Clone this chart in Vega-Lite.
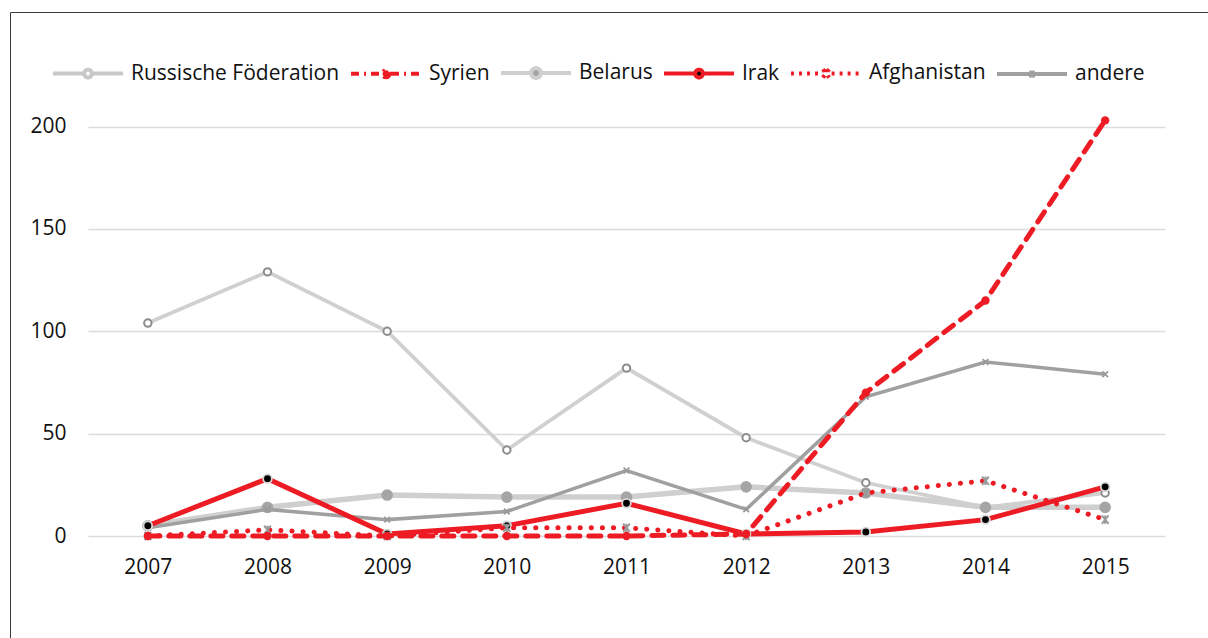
{
  "$schema": "https://vega.github.io/schema/vega-lite/v6.json",
  "autosize": {"type": "none"},
  "padding": {"left": 10, "top": 12, "right": 0, "bottom": 0},
  "width": 1198,
  "height": 626,
  "background": "white",
  "config": {
    "view": {"stroke": "#3a3a3a", "strokeWidth": 1},
    "font": "Open Sans",
    "axis": {"labelFont": "Open Sans", "labelFontSize": 21, "labelColor": "#111111", "ticks": false, "tickSize": 0, "domain": false, "title": null},
    "legend": {"labelFont": "Open Sans", "labelFontSize": 21, "labelColor": "#111111"}
  },
  "data": {"values": [
    {"Jahr": "2007", "Land": "Russische Föderation", "Wert": 104},
    {"Jahr": "2008", "Land": "Russische Föderation", "Wert": 129},
    {"Jahr": "2009", "Land": "Russische Föderation", "Wert": 100},
    {"Jahr": "2010", "Land": "Russische Föderation", "Wert": 42},
    {"Jahr": "2011", "Land": "Russische Föderation", "Wert": 82},
    {"Jahr": "2012", "Land": "Russische Föderation", "Wert": 48},
    {"Jahr": "2013", "Land": "Russische Föderation", "Wert": 26},
    {"Jahr": "2014", "Land": "Russische Föderation", "Wert": 14},
    {"Jahr": "2015", "Land": "Russische Föderation", "Wert": 21},
    {"Jahr": "2007", "Land": "Syrien", "Wert": 0},
    {"Jahr": "2008", "Land": "Syrien", "Wert": 0},
    {"Jahr": "2009", "Land": "Syrien", "Wert": 0},
    {"Jahr": "2010", "Land": "Syrien", "Wert": 0},
    {"Jahr": "2011", "Land": "Syrien", "Wert": 0},
    {"Jahr": "2012", "Land": "Syrien", "Wert": 1},
    {"Jahr": "2013", "Land": "Syrien", "Wert": 70},
    {"Jahr": "2014", "Land": "Syrien", "Wert": 115},
    {"Jahr": "2015", "Land": "Syrien", "Wert": 203},
    {"Jahr": "2007", "Land": "Belarus", "Wert": 5},
    {"Jahr": "2008", "Land": "Belarus", "Wert": 14},
    {"Jahr": "2009", "Land": "Belarus", "Wert": 20},
    {"Jahr": "2010", "Land": "Belarus", "Wert": 19},
    {"Jahr": "2011", "Land": "Belarus", "Wert": 19},
    {"Jahr": "2012", "Land": "Belarus", "Wert": 24},
    {"Jahr": "2013", "Land": "Belarus", "Wert": 21},
    {"Jahr": "2014", "Land": "Belarus", "Wert": 14},
    {"Jahr": "2015", "Land": "Belarus", "Wert": 14},
    {"Jahr": "2007", "Land": "Irak", "Wert": 5},
    {"Jahr": "2008", "Land": "Irak", "Wert": 28},
    {"Jahr": "2009", "Land": "Irak", "Wert": 1},
    {"Jahr": "2010", "Land": "Irak", "Wert": 5},
    {"Jahr": "2011", "Land": "Irak", "Wert": 16},
    {"Jahr": "2012", "Land": "Irak", "Wert": 1},
    {"Jahr": "2013", "Land": "Irak", "Wert": 2},
    {"Jahr": "2014", "Land": "Irak", "Wert": 8},
    {"Jahr": "2015", "Land": "Irak", "Wert": 24},
    {"Jahr": "2007", "Land": "Afghanistan", "Wert": 0},
    {"Jahr": "2008", "Land": "Afghanistan", "Wert": 3},
    {"Jahr": "2009", "Land": "Afghanistan", "Wert": 0},
    {"Jahr": "2010", "Land": "Afghanistan", "Wert": 4},
    {"Jahr": "2011", "Land": "Afghanistan", "Wert": 4},
    {"Jahr": "2012", "Land": "Afghanistan", "Wert": 0},
    {"Jahr": "2013", "Land": "Afghanistan", "Wert": 21},
    {"Jahr": "2014", "Land": "Afghanistan", "Wert": 27},
    {"Jahr": "2015", "Land": "Afghanistan", "Wert": 8},
    {"Jahr": "2007", "Land": "andere", "Wert": 4},
    {"Jahr": "2008", "Land": "andere", "Wert": 13},
    {"Jahr": "2009", "Land": "andere", "Wert": 8},
    {"Jahr": "2010", "Land": "andere", "Wert": 12},
    {"Jahr": "2011", "Land": "andere", "Wert": 32},
    {"Jahr": "2012", "Land": "andere", "Wert": 13},
    {"Jahr": "2013", "Land": "andere", "Wert": 68},
    {"Jahr": "2014", "Land": "andere", "Wert": 85},
    {"Jahr": "2015", "Land": "andere", "Wert": 79}
  ]},
  "encoding": {
    "x": {"field": "Jahr", "type": "ordinal", "scale": {"type": "point", "padding": 0.5, "range": [78, 1155]},
          "axis": {"orient": "bottom", "offset": -102, "labelPadding": 20, "labelAngle": 0, "grid": false}},
    "y": {"field": "Wert", "type": "quantitative", "scale": {"domain": [0, 200], "range": [524, 114.5], "nice": false, "zero": true},
          "axis": {"orient": "left", "offset": -56, "labelPadding": 0, "values": [0, 50, 100, 150, 200], "grid": true, "gridColor": "#dcdcdc", "gridWidth": 1.6}}
  },
  "layer": [
    {
      "transform": [{"filter": "datum.Land == 'Russische Föderation'"}],
      "mark": {"type": "line", "stroke": "#d0d0d0", "strokeWidth": 3.8,
               "point": {"shape": "circle", "filled": true, "fill": "white", "stroke": "#8c8c8c", "strokeWidth": 2, "size": 55, "opacity": 1}}
    },
    {
      "transform": [{"filter": "datum.Land == 'Belarus'"}],
      "mark": {"type": "line", "stroke": "#cfcfcf", "strokeWidth": 5.5,
               "point": {"shape": "circle", "filled": true, "fill": "#a5a5a5", "strokeWidth": 0, "size": 135, "opacity": 1}}
    },
    {
      "transform": [{"filter": "datum.Land == 'andere'"}],
      "mark": {"type": "line", "stroke": "#a0a0a0", "strokeWidth": 3.5,
               "point": {"shape": "M-1,-1L1,1M-1,1L1,-1", "filled": false, "stroke": "#9a9a9a", "strokeWidth": 1.8, "size": 32, "opacity": 1}}
    },
    {
      "transform": [{"filter": "datum.Land == 'Irak'"}],
      "mark": {"type": "line", "stroke": "#ed1c24", "strokeWidth": 5,
               "point": {"shape": "circle", "filled": true, "fill": "black", "stroke": "#d8d8d8", "strokeWidth": 1.8, "size": 75, "opacity": 1}}
    },
    {
      "transform": [{"filter": "datum.Land == 'Afghanistan'"}],
      "mark": {"type": "line", "stroke": "#ed1c24", "strokeWidth": 5, "strokeDash": [0.1, 11], "strokeCap": "round",
               "point": {"shape": "M-0.8,-1L0.8,1M-0.8,1L0.8,-1M0,-1V1", "filled": false, "stroke": "#9a9a9a", "strokeWidth": 2, "size": 70, "opacity": 1}}
    },
    {
      "transform": [{"filter": "datum.Land == 'Syrien'"}],
      "mark": {"type": "line", "stroke": "#ed1c24", "strokeWidth": 5, "strokeDash": [12, 9], "strokeCap": "round",
               "point": {"shape": "circle", "filled": true, "fill": "#ed1c24", "strokeWidth": 0, "size": 70, "opacity": 1}}
    },
    {
      "transform": [{"filter": "datum.Wert < 0"}],
      "mark": {"type": "point", "opacity": 1, "filled": true},
      "encoding": {
        "shape": {"field": "Land", "type": "nominal",
          "scale": {"domain": ["Russische Föderation", "Syrien", "Belarus", "Irak", "Afghanistan", "andere"],
                    "range": [
                      "M-1,0H-0.14M0.14,0H1M0.11,0A0.11,0.11 0 1,1 -0.11,0A0.11,0.11 0 1,1 0.11,0Z",
                      "M-1,0H1M0.1,0A0.1,0.1 0 1,1 -0.1,0A0.1,0.1 0 1,1 0.1,0Z",
                      "M-1,0H-0.16M0.16,0H1M0.14,0A0.14,0.14 0 1,1 -0.14,0A0.14,0.14 0 1,1 0.14,0Z",
                      "M-1,0H-0.14M0.14,0H1M0.11,0A0.11,0.11 0 1,1 -0.11,0A0.11,0.11 0 1,1 0.11,0Z",
                      "M-1,0H-0.16M0.16,0H1M-0.09,-0.12L0.09,0.12M-0.09,0.12L0.09,-0.12M0,-0.12V0.12",
                      "M-1,0H1M-0.08,-0.08L0.08,0.08M-0.08,0.08L0.08,-0.08"
                    ]},
          "legend": {"title": null, "orient": "none", "legendX": 41, "legendY": 24, "direction": "horizontal", "columns": 6,
                     "symbolSize": 4900, "symbolStrokeWidth": 4, "labelOffset": 6, "columnPadding": 3, "labelLimit": 400, "padding": 0,
                     "labelFontSize": 21, "labelFont": "Open Sans",
                     "encode": {"symbols": {"update": {"strokeCap": {"value": "round"}}}}}},
        "fill": {"field": "Land", "type": "nominal",
          "scale": {"domain": ["Russische Föderation", "Syrien", "Belarus", "Irak", "Afghanistan", "andere"],
                    "range": ["white", "#ed1c24", "#a5a5a5", "black", "transparent", "transparent"]}},
        "stroke": {"field": "Land", "type": "nominal",
          "scale": {"domain": ["Russische Föderation", "Syrien", "Belarus", "Irak", "Afghanistan", "andere"],
                    "range": ["#c8c8c8", "#ed1c24", "#cfcfcf", "#ed1c24", "#ed1c24", "#a0a0a0"]}},
        "strokeDash": {"field": "Land", "type": "nominal",
          "scale": {"domain": ["Russische Föderation", "Syrien", "Belarus", "Irak", "Afghanistan", "andere"],
                    "range": [[1, 0], [8, 5, 2, 5], [1, 0], [1, 0], [3, 5], [1, 0]]}}
      }
    }
  ]
}
